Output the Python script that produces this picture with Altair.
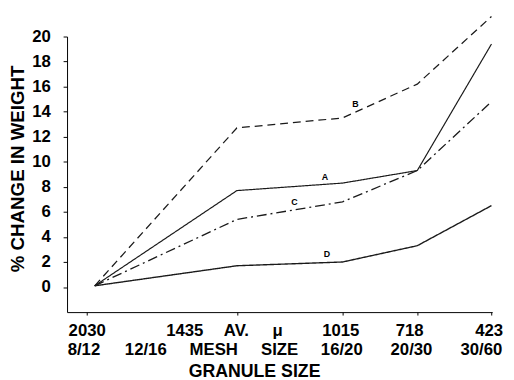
import altair as alt
import pandas as pd

# ---- data ----
size_um = [2000, 1435, 1015, 718, 423]
series_A = [0.1, 7.7, 8.3, 9.3, 19.4]
series_B = [0.1, 12.7, 13.5, 16.2, 21.6]
series_C = [0.1, 5.4, 6.8, 9.3, 14.8]
series_D = [0.1, 1.7, 2.0, 3.3, 6.5]

series_names = ["A", "B", "C", "D"]
series_values = [series_A, series_B, series_C, series_D]

# in-plot curve labels (position in data units)
curve_label_text = ["B", "A", "C", "D"]
curve_label_x = [964, 1085, 1206, 1077]
curve_label_y = [14.6, 8.8, 6.8, 2.6]

# x tick marks (microns)
x_ticks = [2030, 1435, 1015, 718, 423]

# bottom text rows (label text and microns position)
row1_text = ["2030", "1435", "AV.", "\u03bc", "1015", "718", "423"]
row1_pos = [2030, 1642, 1437, 1273, 1022, 748, 432]
row2_text = ["8/12", "12/16", "MESH", "SIZE", "16/20", "20/30", "30/60"]
row2_pos = [2043, 1797, 1527, 1265, 1018, 741, 463]

y_ticks = [0, 2, 4, 6, 8, 10, 12, 14, 16, 18, 20]

FONT = "Liberation Sans"

rows = []
for name, vals in zip(series_names, series_values):
    for xv, yv in zip(size_um, vals):
        rows.append({"series": name, "size": xv, "pct": yv})
df = pd.DataFrame(rows)

lab_df = pd.DataFrame({"t": curve_label_text, "x": curve_label_x, "y": curve_label_y})
r1 = pd.DataFrame({"t": row1_text, "x": row1_pos})
r2 = pd.DataFrame({"t": row2_text, "x": row2_pos})

xscale = alt.Scale(domain=[2110, 420], nice=False, zero=False)
yscale = alt.Scale(domain=[-2, 20], nice=False, zero=False)

xaxis = alt.Axis(
    values=x_ticks, labels=False, grid=False, tickSize=3,
    title="GRANULE SIZE", titleFont=FONT, titleFontSize=18, titleFontWeight="bold",
    titleX=190, titleY=51, titleBaseline="top", titleAlign="center", titleColor="black",
    domainColor="black", tickColor="black",
)
yaxis = alt.Axis(
    values=y_ticks, grid=False, tickSize=4, labelPadding=13, labelOverlap=False,
    labelFont=FONT, labelFontSize=17, labelFontWeight="bold", labelColor="black",
    title="% CHANGE IN WEIGHT", titleFont=FONT, titleFontSize=19, titleFontWeight="bold",
    titleX=-50, titleY=134, titleBaseline="middle", titleAngle=270, titleColor="black",
    domainColor="black", tickColor="black",
)

lines = alt.Chart(df).mark_line(color="#1a1a1a", clip=False).encode(
    x=alt.X("size:Q", scale=xscale, axis=xaxis),
    y=alt.Y("pct:Q", scale=yscale, axis=yaxis),
    detail="series:N",
    strokeDash=alt.StrokeDash(
        "series:N",
        scale=alt.Scale(domain=series_names, range=[[1, 0], [8, 5], [10, 4, 2, 4], [1, 0]]),
        legend=None,
    ),
    strokeWidth=alt.StrokeWidth(
        "series:N",
        scale=alt.Scale(domain=series_names, range=[1.2, 1.4, 1.3, 1.0]),
        legend=None,
    ),
)

curve_labels = alt.Chart(lab_df).mark_text(
    font=FONT, fontSize=9, fontWeight="bold", color="black", baseline="middle"
).encode(
    x=alt.X("x:Q", scale=xscale, axis=xaxis),
    y=alt.Y("y:Q", scale=yscale, axis=yaxis),
    text="t:N",
)

row1 = alt.Chart(r1).mark_text(
    font=FONT, fontSize=17, fontWeight="bold", color="black", baseline="middle"
).encode(x=alt.X("x:Q", scale=xscale, axis=xaxis), y=alt.value(299), text="t:N")

row2 = alt.Chart(r2).mark_text(
    font=FONT, fontSize=17, fontWeight="bold", color="black", baseline="middle"
).encode(x=alt.X("x:Q", scale=xscale, axis=xaxis), y=alt.value(318.5), text="t:N")

chart = alt.layer(lines, curve_labels, row1, row2).properties(
    width=432, height=280,
    autosize=alt.AutoSizeParams(type="none"),
    padding={"left": 60, "top": 26, "right": 14, "bottom": 66},
    background="white",
).configure_view(stroke=None)

chart.save("out.html", embed_options={"renderer": "svg", "actions": False})
